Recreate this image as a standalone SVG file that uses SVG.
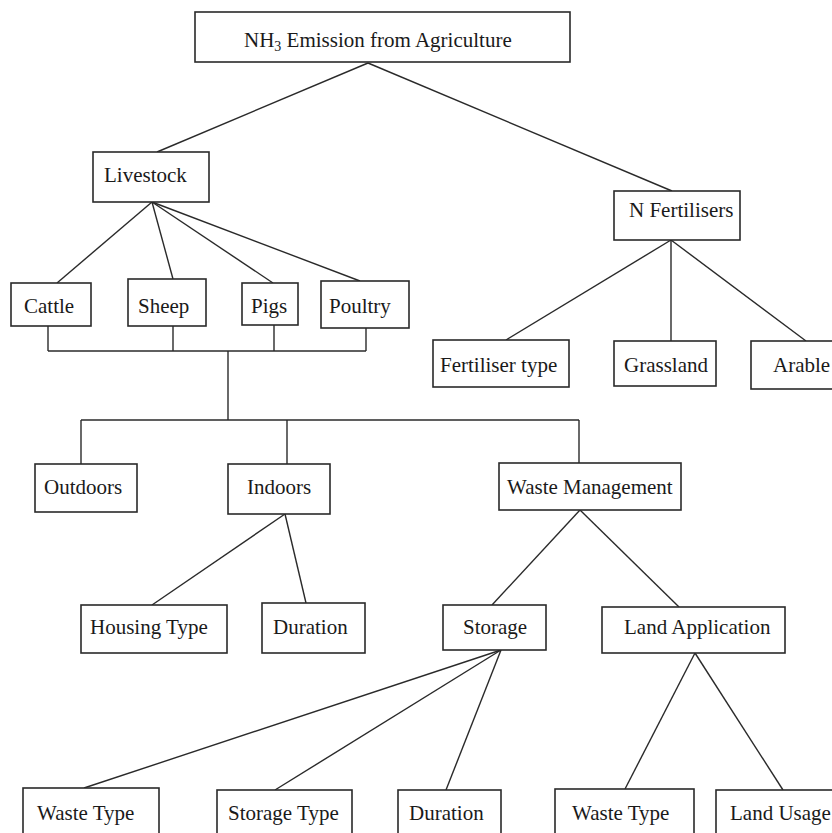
<svg xmlns="http://www.w3.org/2000/svg" width="832" height="833" viewBox="0 0 832 833">
<style>
rect{fill:#fff;stroke:#2a2a2a;stroke-width:1.6}
text{font-family:"Liberation Serif","Times New Roman",serif;font-size:21px;fill:#1a1a1a}
#edges line,#edges polyline{stroke:#2a2a2a;stroke-width:1.4;fill:none}
</style>
<rect x="0" y="0" width="832" height="833" style="stroke:none;fill:#fff"/>
<g id="edges">
<line x1="368" y1="63" x2="157" y2="152"/>
<line x1="368" y1="63" x2="672" y2="191"/>
<line x1="152" y1="202" x2="57" y2="283"/>
<line x1="152" y1="202" x2="173" y2="279"/>
<line x1="152" y1="202" x2="273" y2="283"/>
<line x1="152" y1="202" x2="360" y2="281"/>
<line x1="671" y1="240" x2="506" y2="340"/>
<line x1="671" y1="240" x2="671" y2="341"/>
<line x1="671" y1="240" x2="806" y2="341"/>
<line x1="48" y1="326" x2="48" y2="351"/>
<line x1="173" y1="326" x2="173" y2="351"/>
<line x1="274" y1="325" x2="274" y2="351"/>
<line x1="366" y1="328" x2="366" y2="351"/>
<line x1="48" y1="351" x2="366" y2="351"/>
<line x1="228" y1="351" x2="228" y2="420"/>
<line x1="81" y1="420" x2="579" y2="420"/>
<line x1="81" y1="420" x2="81" y2="464"/>
<line x1="287" y1="420" x2="287" y2="464"/>
<line x1="579" y1="420" x2="579" y2="463"/>
<line x1="285" y1="514" x2="152" y2="605"/>
<line x1="285" y1="514" x2="306" y2="603"/>
<line x1="580" y1="510" x2="492" y2="605"/>
<line x1="580" y1="510" x2="679" y2="607"/>
<line x1="501" y1="650" x2="84" y2="788"/>
<line x1="501" y1="650" x2="275" y2="790"/>
<line x1="501" y1="650" x2="446" y2="790"/>
<line x1="695" y1="653" x2="625" y2="789"/>
<line x1="695" y1="653" x2="783" y2="790"/>
</g>
<g id="root"><rect x="195" y="12" width="375" height="50"/><text x="244" y="47">NH<tspan font-size="14" dy="4">3</tspan><tspan dy="-4"> Emission from Agriculture</tspan></text></g>
<g id="livestock"><rect x="93" y="152" width="116" height="50"/><text x="104" y="182">Livestock</text></g>
<g id="nfert"><rect x="614" y="191" width="126" height="49"/><text x="629" y="217">N Fertilisers</text></g>
<g id="cattle"><rect x="11" y="283" width="80" height="43"/><text x="24" y="313">Cattle</text></g>
<g id="sheep"><rect x="128" y="279" width="78" height="47"/><text x="138" y="313">Sheep</text></g>
<g id="pigs"><rect x="242" y="283" width="56" height="42"/><text x="251" y="313">Pigs</text></g>
<g id="poultry"><rect x="321" y="281" width="88" height="47"/><text x="329" y="313">Poultry</text></g>
<g id="fertype"><rect x="433" y="340" width="136" height="47"/><text x="440" y="372">Fertiliser type</text></g>
<g id="grassland"><rect x="614" y="341" width="102" height="45"/><text x="624" y="372">Grassland</text></g>
<g id="arable"><rect x="751" y="341" width="100" height="48"/><text x="773" y="372">Arable</text></g>
<g id="outdoors"><rect x="35" y="464" width="102" height="48"/><text x="44" y="494">Outdoors</text></g>
<g id="indoors"><rect x="228" y="464" width="102" height="50"/><text x="247" y="494">Indoors</text></g>
<g id="wastemgmt"><rect x="499" y="463" width="182" height="47"/><text x="507" y="494">Waste Management</text></g>
<g id="housing"><rect x="81" y="605" width="146" height="48"/><text x="90" y="634">Housing Type</text></g>
<g id="duration1"><rect x="262" y="603" width="103" height="50"/><text x="273" y="634">Duration</text></g>
<g id="storage"><rect x="443" y="605" width="103" height="45"/><text x="463" y="634">Storage</text></g>
<g id="landapp"><rect x="602" y="607" width="183" height="46"/><text x="624" y="634">Land Application</text></g>
<g id="wastetype1"><rect x="23" y="788" width="136" height="60"/><text x="37" y="820">Waste Type</text></g>
<g id="storagetype"><rect x="217" y="790" width="135" height="60"/><text x="228" y="820">Storage Type</text></g>
<g id="duration2"><rect x="398" y="790" width="103" height="60"/><text x="409" y="820">Duration</text></g>
<g id="wastetype2"><rect x="555" y="789" width="139" height="60"/><text x="572" y="820">Waste Type</text></g>
<g id="landusage"><rect x="716" y="790" width="130" height="60"/><text x="730" y="820">Land Usage</text></g>
</svg>
